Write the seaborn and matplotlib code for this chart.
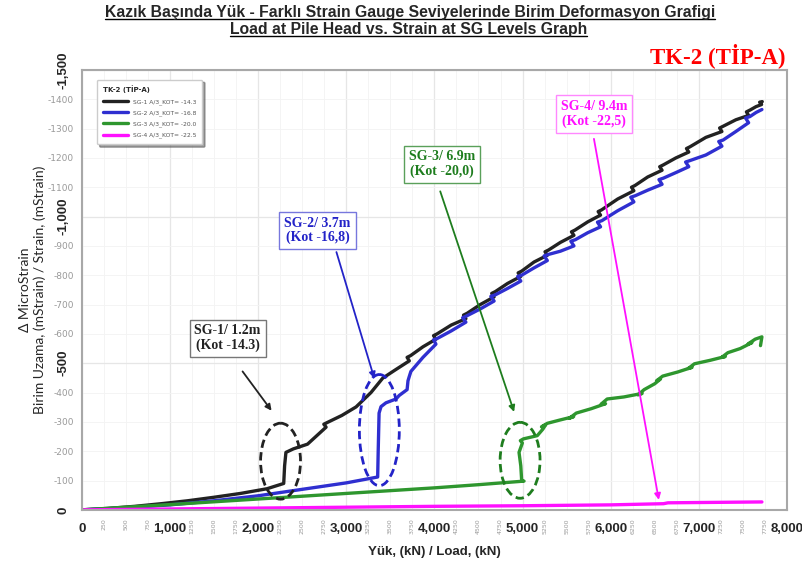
import matplotlib
matplotlib.use("Agg")
import matplotlib.pyplot as plt
import matplotlib.ticker as mticker
from matplotlib.patches import Ellipse
from matplotlib.lines import Line2D
import pandas as pd
import seaborn as sns

# values: load at pile head (kN) and micro strain
sg1_load = [0, 300, 600, 900, 1200, 1500, 1800, 2100, 2290, 2300, 2315, 2400, 2560,
            2771, 2745, 2785, 2950, 3111, 3280, 3413, 3560, 3715, 3690, 3730,
            3870, 4017, 3990, 4030, 4190, 4357, 4330, 4370, 4520, 4677, 4650, 4690,
            4830, 4980, 4950, 4990, 5130, 5281, 5255, 5295, 5430, 5583, 5555, 5595,
            5740, 5885, 5858, 5898, 6080, 6263, 6236, 6276, 6420, 6583, 6556, 6596,
            6740, 6886, 6860, 6900, 7080, 7262, 7236, 7276, 7420, 7565, 7540, 7580,
            7650, 7712, 7690, 7720]
sg1_strain = [0, -5, -12, -21, -31, -43, -56, -72, -90, -150, -196, -208, -224,
              -282, -292, -298, -322, -351, -400, -449, -478, -508, -520, -526,
              -556, -582, -594, -600, -630, -652, -664, -670, -700, -726, -738, -744,
              -772, -796, -808, -814, -845, -868, -880, -886, -912, -936, -948, -954,
              -982, -1005, -1017, -1023, -1060, -1088, -1100, -1106, -1135, -1158, -1170, -1176,
              -1200, -1220, -1232, -1238, -1270, -1290, -1302, -1308, -1330, -1345, -1357, -1363,
              -1375, -1382, -1390, -1392]

sg2_load = [0, 500, 1000, 1500, 2000, 2500, 3000, 3356, 3362, 3372, 3394, 3450, 3564,
            3600, 3690, 3700, 3715, 3733, 3870, 4017, 3990, 4030, 4190, 4357, 4320, 4370,
            4520, 4677, 4640, 4690, 4830, 4980, 4945, 4995, 5130, 5281, 5245, 5295,
            5430, 5583, 5548, 5598, 5740, 5885, 5850, 5900, 6080, 6263, 6228, 6278,
            6420, 6583, 6548, 6598, 6740, 6886, 6850, 6900, 7080, 7262, 7226, 7276,
            7420, 7565, 7530, 7580, 7650, 7716]
sg2_strain = [0, -7, -17, -31, -48, -70, -92, -112, -200, -330, -352, -365, -378,
              -390, -410, -440, -455, -472, -520, -565, -580, -584, -610, -640, -655, -662,
              -685, -712, -728, -733, -755, -780, -796, -801, -825, -850, -866, -871,
              -882, -900, -916, -921, -945, -965, -981, -986, -1020, -1050, -1066, -1071,
              -1090, -1110, -1126, -1131, -1150, -1170, -1186, -1191, -1210, -1240, -1256, -1261,
              -1290, -1320, -1336, -1341, -1355, -1365]

sg3_load = [0, 1000, 2000, 3000, 4000, 4507, 5017, 4990, 4980, 4960, 4998, 4975, 5010,
            5167, 5230, 5262, 5215, 5280, 5420, 5580, 5530, 5610, 5780, 5942, 5890, 5960,
            6150, 6357, 6310, 6380, 6500, 6565, 6520, 6590, 6760, 6923, 6880, 6950,
            7130, 7301, 7260, 7330, 7470, 7602, 7560, 7640, 7716, 7700]
sg3_strain = [0, -18, -37, -56, -75, -86, -98, -100, -150, -196, -228, -236, -242,
              -253, -275, -290, -283, -295, -306, -318, -312, -330, -345, -362, -360, -378,
              -385, -397, -392, -410, -430, -446, -440, -456, -470, -486, -482, -498,
              -510, -523, -520, -536, -550, -570, -566, -582, -590, -560]

sg4_load = [0, 1000, 2000, 3000, 4000, 5000, 6000, 6600, 6650, 7000, 7716]
sg4_strain = [0, -3, -6, -9, -12, -14, -17, -21, -24, -25, -27]

series_names = ["SG-1 A/3_KOT= -14.3", "SG-2 A/3_KOT= -16.8",
                "SG-3 A/3_KOT= -20.0", "SG-4 A/3_KOT= -22.5"]
series_colors = ["#222222", "#2f2fd0", "#2e962e", "#ff10ff"]

frames = []
for name, ld, st in zip(series_names,
                        [sg1_load, sg2_load, sg3_load, sg4_load],
                        [sg1_strain, sg2_strain, sg3_strain, sg4_strain]):
    frames.append(pd.DataFrame({"load": ld, "strain": st, "sg": name}))
df = pd.concat(frames, ignore_index=True)

sns.set_style("white")
fig = plt.figure(figsize=(8.03, 5.64), dpi=100)
ax = fig.add_axes([0.102, 0.096, 0.878, 0.780])

for name, col in zip(series_names, series_colors):
    sub = df[df["sg"] == name]
    sns.lineplot(data=sub, x="load", y="strain", sort=False, estimator=None,
                 color=col, linewidth=2.4, label=name, ax=ax)

ax.set_xlim(0, 8000)
ax.set_ylim(0, -1500)

# axis ticks: bold major labels, small grey minor labels
ax.xaxis.set_major_locator(mticker.MultipleLocator(1000))
ax.xaxis.set_minor_locator(mticker.MultipleLocator(250))
ax.xaxis.set_major_formatter(mticker.FuncFormatter(lambda v, p: f"{int(v):,}"))
ax.xaxis.set_minor_formatter(mticker.FuncFormatter(lambda v, p: f"{int(v)}"))
ax.yaxis.set_major_locator(mticker.MultipleLocator(500))
ax.yaxis.set_minor_locator(mticker.MultipleLocator(100))
ax.yaxis.set_major_formatter(mticker.FuncFormatter(lambda v, p: f"{int(v):,}"))
ax.yaxis.set_minor_formatter(mticker.FuncFormatter(lambda v, p: f"{int(v)}"))

ax.tick_params(axis="x", which="major", labelsize=9.5, length=7, direction="inout",
               color="#999999", pad=6)
ax.tick_params(axis="x", which="minor", labelsize=4.5, labelcolor="#999999", length=3,
               color="#bbbbbb", labelrotation=90, pad=3)
ax.tick_params(axis="y", which="major", labelsize=9.5, length=12, direction="inout",
               color="#999999", labelrotation=90, pad=3)
ax.tick_params(axis="y", which="minor", labelsize=6.5, labelcolor="#999999", length=3,
               color="#bbbbbb", pad=3)
for lab in ax.get_xticklabels() + ax.get_yticklabels():
    lab.set_fontweight("bold")
    lab.set_fontfamily("Liberation Sans")
for lab in ax.get_yticklabels():
    lab.set_verticalalignment("center")

ax.grid(True, which="major", color="#e6e6e6", linewidth=0.9)
ax.grid(True, which="minor", color="#f3f3f3", linewidth=0.6)
for sp in ax.spines.values():
    sp.set_color("#a8a8a8")
    sp.set_linewidth(1.5)

ax.set_xlabel("Yük, (kN) / Load, (kN)", fontsize=9.5, fontweight="bold",
              family="Liberation Sans", labelpad=8)
ax.set_ylabel("Δ MicroStrain\nBirim Uzama, (mStrain) / Strain, (mStrain)", fontsize=10,
              family=["Lato", "DejaVu Sans"], labelpad=1, linespacing=1.2)

leg = ax.legend(title="TK-2 (TİP-A)", loc="upper left", bbox_to_anchor=(0.017, 0.985),
                fontsize=4.3, title_fontsize=5, frameon=True, shadow=True,
                fancybox=True, handlelength=4.2, labelspacing=0.9, borderpad=1.0,
                alignment="left")
leg.get_title().set_fontweight("bold")
leg.get_frame().set_edgecolor("#cccccc")
for txt in leg.get_texts():
    txt.set_color("#555555")

# annotations
ann_font = dict(family="Liberation Serif", fontweight="bold", fontsize=10)
notes = [
    ("SG-1/ 1.2m\n(Kot -14.3)", (1653, -586), (1823, -472), (2152, -338),
     (2254, -166), 453, 259, "#222222", "#777777", "#222222"),
    ("SG-2/ 3.7m\n(Kot -16,8)", (2673, -952), (2888, -879), (3318, -448),
     (3375, -272), 453, 379, "#2323c8", "#7777dd", "#2323c8"),
    ("SG-3/ 6.9m\n(Kot -20,0)", (4088, -1179), (4066, -1086), (4904, -334),
     (4972, -169), 453, 259, "#1e7d1e", "#5aa05a", "#1e7d1e"),
    ("SG-4/ 9.4m\n(Kot -22,5)", (5810, -1350), (5810, -1265), (6546, -34),
     None, 0, 0, "#ff10ff", "#ff88ff", "#ff10ff"),
]
for text, pos, a0, a1, ell, ew, eh, tcol, bcol, acol in notes:
    ax.text(pos[0], pos[1], text, ha="center", va="center", color=tcol,
            bbox=dict(boxstyle="square,pad=0.35", fc="white", ec=bcol, lw=1.0),
            zorder=6, linespacing=1.1, **ann_font)
    ax.annotate("", xy=a1, xytext=a0,
                arrowprops=dict(arrowstyle="-|>", color=acol, lw=1.3,
                                mutation_scale=9, shrinkA=0, shrinkB=0), zorder=5)
    if ell is not None:
        ax.add_patch(Ellipse(ell, ew, eh, fill=False, ec=acol, lw=2.0,
                             ls=(0, (3, 1.6)), zorder=5))

# titles
t1 = fig.text(0.511, 0.978, "Kazık Başında Yük - Farklı Strain Gauge Seviyelerinde Birim Deformasyon Grafigi",
              ha="center", va="center", fontsize=11.3, fontweight="bold",
              family="Liberation Sans")
t2 = fig.text(0.509, 0.948, "Load at Pile Head vs. Strain at SG Levels Graph",
              ha="center", va="center", fontsize=11.3, fontweight="bold",
              family="Liberation Sans")
fig.text(0.978, 0.902, "TK-2 (TİP-A)", ha="right", va="center", color="#ff0000",
         fontsize=16.5, fontweight="bold", family="Liberation Serif")

fig.canvas.draw()
r = fig.canvas.get_renderer()
for t in (t1, t2):
    bb = t.get_window_extent(r).transformed(fig.transFigure.inverted())
    fig.add_artist(Line2D([bb.x0, bb.x1], [bb.y0 + 0.002, bb.y0 + 0.002],
                          color="black", lw=1.0, transform=fig.transFigure))

fig.savefig("out.png", dpi=100)
